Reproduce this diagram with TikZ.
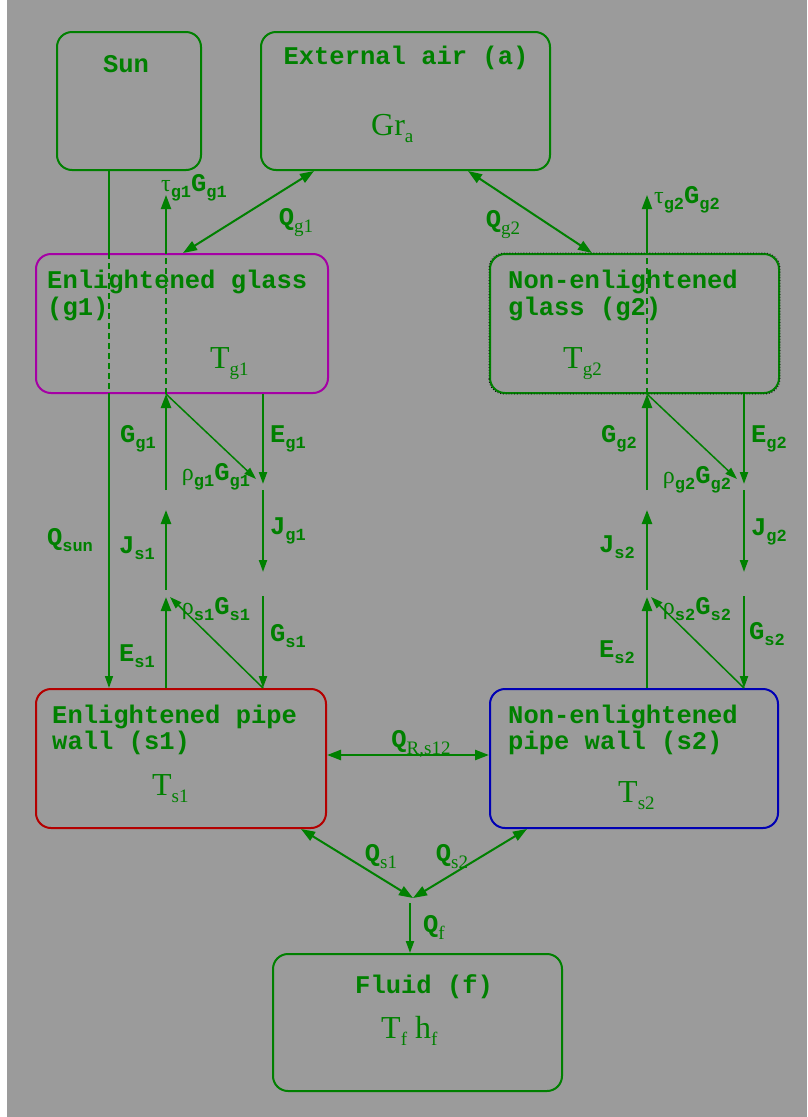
\documentclass[tikz,border=0pt]{standalone}
\usepackage{fontspec}
\usetikzlibrary{arrows.meta}
\newfontfamily\monob{Liberation Mono}
\newfontfamily\serf{Liberation Serif}
\definecolor{bgc}{RGB}{155,155,155}
\definecolor{grc}{RGB}{0,128,0}
\definecolor{mgc}{RGB}{165,0,165}
\definecolor{rdc}{RGB}{180,0,0}
\definecolor{blc}{RGB}{0,0,180}
\newcommand\mtxt{\monob\bfseries\fontsize{25.5}{27}\selectfont}
\newcommand\mysubm[1]{\raisebox{-6pt}{\monob\bfseries\fontsize{17}{17}\selectfont #1}}
\newcommand\mysubs[1]{\raisebox{-7pt}{\serf\fontsize{19}{19}\selectfont #1}}
\newcommand\mylab[2]{{\mtxt #1}\mysubm{#2}}
\newcommand\myq[1]{{\mtxt Q}\mysubs{#1}}
\newcommand\mygr[1]{{\serf\fontsize{24}{24}\selectfont #1}}
\newcommand\myT[1]{{\serf\fontsize{32}{32}\selectfont #1}}
\begin{document}
\begin{tikzpicture}[x=1pt,y=-1pt,
 box/.style={draw=grc, rounded corners=15pt, line width=2pt, inner sep=0pt},
 ttl/.style={anchor=base west, inner sep=0pt, text=grc, font=\mtxt},
 tv/.style={anchor=base west, inner sep=0pt, text=grc},
 lab/.style={inner sep=0pt, text=grc},
 con/.style={draw=grc, line width=2.4pt},
 con2/.style={draw=grc, line width=2pt},
 thn/.style={draw=grc, line width=1.5pt},
 arr/.style={-{Triangle[length=14pt,width=10pt]}},
 sarr/.style={-{Triangle[length=12pt,width=8pt]}},
 darr/.style={{Triangle[length=14pt,width=10pt]}-{Triangle[length=14pt,width=10pt]}},
 dsh/.style={dash pattern=on 6pt off 4pt}]
\fill[white] (0,0) rectangle (807,1117);
\fill[bgc] (7,0) rectangle (807,1117);
\useasboundingbox (0,0) rectangle (807,1117);

% boxes
\node[box, minimum width=144pt, minimum height=138pt] (sun) at (129,101) {};
\node[box, minimum width=289pt, minimum height=138pt] (air) at (405.5,101) {};
\node[box, draw=mgc, minimum width=292pt, minimum height=139pt] (g1) at (182,323.5) {};
\node[box, minimum width=289pt, minimum height=139pt] (g2) at (634.5,323.5) {};
\draw[black, dotted, line width=0.8pt, rounded corners=15pt] (g2.south west) rectangle (g2.north east);
\node[box, draw=rdc, minimum width=290pt, minimum height=139pt] (s1) at (181,758.5) {};
\node[box, draw=blc, minimum width=288pt, minimum height=139pt] (s2) at (634,758.5) {};
\node[box, minimum width=289pt, minimum height=137pt] (fl) at (417.5,1022.5) {};

% box texts
\node[lab, anchor=base, font=\mtxt] (tsun) at (126,72) {Sun};
\node[lab, anchor=base, font=\mtxt] (tair) at (406,64) {External air (a)};
\node[tv] (tgra) at (371,135) {\myT{Gr}\mysubs{a}};
\node[ttl] (tg1a) at (47,288) {Enlightened glass};
\node[ttl] (tg1b) at (47,315) {(g1)};
\node[tv] (tg1T) at (210,368) {\myT{T}\mysubs{g1}};
\node[ttl] (tg2a) at (508,288) {Non-enlightened};
\node[ttl] (tg2b) at (508,315) {glass (g2)};
\node[tv] (tg2T) at (563,368) {\myT{T}\mysubs{g2}};
\node[ttl] (ts1a) at (52,723) {Enlightened pipe};
\node[ttl] (ts1b) at (52,749) {wall (s1)};
\node[tv] (ts1T) at (152,795) {\myT{T}\mysubs{s1}};
\node[ttl] (ts2a) at (508,723) {Non-enlightened};
\node[ttl] (ts2b) at (508,749) {pipe wall (s2)};
\node[tv] (ts2T) at (618,802) {\myT{T}\mysubs{s2}};
\node[ttl] (tfl) at (355,993) {Fluid (f)};
\node[tv] (tflT) at (381,1038) {\myT{T}\mysubs{f}\myT{ h}\mysubs{f}};

% column coordinates
\coordinate (SL) at (109,0);
\coordinate (L1a) at (166,597);
\coordinate (L1b) at (166,590);
\coordinate (L1c) at (166,510);
\coordinate (L1d) at (166,490);
\coordinate (L1e) at (166,195);
\coordinate (L2a) at (263,484);
\coordinate (L2b) at (263,490);
\coordinate (L2c) at (263,572);
\coordinate (L2d) at (263,596);
\coordinate (D1) at (256,479);
\coordinate (D2) at (170,597);
\coordinate (R1a) at (647,597);
\coordinate (R1b) at (647,590);
\coordinate (R1c) at (647,510);
\coordinate (R1d) at (647,490);
\coordinate (R1e) at (647,195);
\coordinate (R2a) at (744,484);
\coordinate (R2b) at (744,490);
\coordinate (R2c) at (744,572);
\coordinate (R2d) at (744,596);
\coordinate (D3) at (737,479);
\coordinate (D4) at (651,597);
\coordinate (xq1) at (314,0);
\coordinate (xq2) at (183,0);
\coordinate (xq3) at (468,0);
\coordinate (xq4) at (592,0);
\coordinate (xs1) at (301,0);
\coordinate (xs2) at (527,0);
\coordinate (J) at (413,898);
\coordinate (Fa) at (410,903);

% sun ray
\draw[thn] (sun.south -| SL) -- (g1.north -| SL);
\draw[thn, dsh] (g1.north -| SL) -- (g1.south -| SL);
\draw[thn, sarr] (g1.south -| SL) -- (s1.north -| SL);

% left columns
\draw[con, arr] (s1.north -| L1a) -- (L1a);
\draw[con, arr] (L1b) -- (L1c);
\draw[con, arr] (L1d) -- (g1.south -| L1d);
\draw[con2, dsh] (g1.south -| L1d) -- (g1.north -| L1d);
\draw[con2, arr] (g1.north -| L1e) -- (L1e);
\draw[con2, sarr] (g1.south -| L2a) -- (L2a);
\draw[con2, sarr] (L2b) -- (L2c);
\draw[con2, sarr] (L2d) -- (s1.north -| L2d);
\draw[thn, sarr] (g1.south -| L1a) -- (D1);
\draw[thn, sarr] (s1.north -| L2a) -- (D2);

% right columns
\draw[con, arr] (s2.north -| R1a) -- (R1a);
\draw[con, arr] (R1b) -- (R1c);
\draw[con, arr] (R1d) -- (g2.south -| R1d);
\draw[con2, dsh] (g2.south -| R1d) -- (g2.north -| R1d);
\draw[con2, arr] (g2.north -| R1e) -- (R1e);
\draw[con2, sarr] (g2.south -| R2a) -- (R2a);
\draw[con2, sarr] (R2b) -- (R2c);
\draw[con2, sarr] (R2d) -- (s2.north -| R2d);
\draw[thn, sarr] (g2.south -| R1a) -- (D3);
\draw[thn, sarr] (s2.north -| R2a) -- (D4);

% exchanges
\draw[con2, darr] (air.south -| xq1) -- (g1.north -| xq2);
\draw[con2, darr] (air.south -| xq3) -- (g2.north -| xq4);
\draw[con, darr] (s1.east |- 0,755) -- (s2.west |- 0,755);
\draw[con2, darr] (s1.south -| xs1) -- (J);
\draw[con2, darr] (s2.south -| xs2) -- (J);
\draw[con2, sarr] (Fa) -- (fl.north -| Fa);

% labels
\node[lab] (ltg1) at (194,188) {\mygr{τ}\mysubm{g1}\mylab{G}{g1}};
\node[lab] (lqg1) at (296,223) {\myq{g1}};
\node[lab] (lqg2) at (503,225) {\myq{g2}};
\node[lab] (ltg2) at (687,200) {\mygr{τ}\mysubm{g2}\mylab{G}{g2}};
\node[lab] (lGg1) at (138,439) {\mylab{G}{g1}};
\node[lab] (lEg1) at (288,439) {\mylab{E}{g1}};
\node[lab] (lrg1) at (216,477) {\mygr{ρ}\mysubm{g1}\mylab{G}{g1}};
\node[lab] (lJg1) at (288,531) {\mylab{J}{g1}};
\node[lab] (lJs1) at (137,548) {\mylab{J}{s1}};
\node[lab] (lrs1) at (216,609) {\mygr{ρ}\mysubm{s1}\mylab{G}{s1}};
\node[lab] (lGs1) at (288,636) {\mylab{G}{s1}};
\node[lab] (lEs1) at (137,656) {\mylab{E}{s1}};
\node[lab] (lqsun) at (70,540) {{\mtxt Q}\mysubm{sun}};
\node[lab] (lGg2) at (619,439) {\mylab{G}{g2}};
\node[lab] (lEg2) at (769,439) {\mylab{E}{g2}};
\node[lab] (lrg2) at (697,480) {\mygr{ρ}\mysubm{g2}\mylab{G}{g2}};
\node[lab] (lJg2) at (769,532) {\mylab{J}{g2}};
\node[lab] (lJs2) at (617,547) {\mylab{J}{s2}};
\node[lab] (lrs2) at (697,609) {\mygr{ρ}\mysubm{s2}\mylab{G}{s2}};
\node[lab] (lGs2) at (767,634) {\mylab{G}{s2}};
\node[lab] (lEs2) at (617,652) {\mylab{E}{s2}};
\node[lab] (lqr) at (421,744) {\myq{R,s12}};
\node[lab] (lqs1) at (381,857) {\myq{s1}};
\node[lab] (lqs2) at (452,857) {\myq{s2}};
\node[lab] (lqf) at (434,927) {\myq{f}};
\end{tikzpicture}
\end{document}
